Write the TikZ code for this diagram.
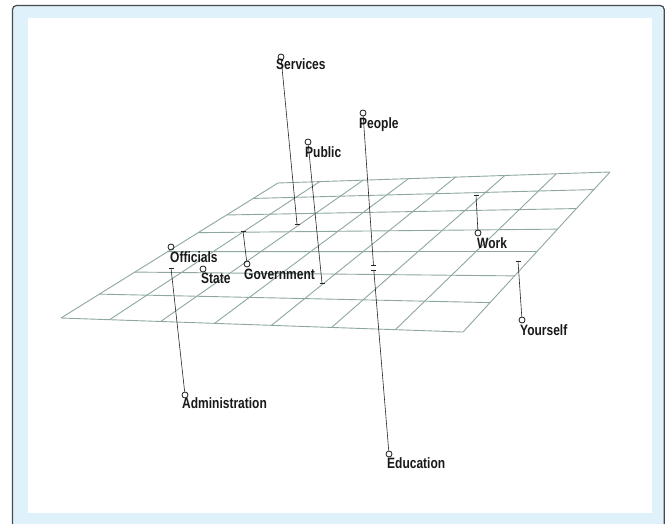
\documentclass[tikz,border=0pt]{standalone}
\usepackage{fontspec}
\setmainfont{Liberation Sans}
\usepackage{graphicx}
\definecolor{frameblue}{HTML}{DFF1FB}
\definecolor{framedark}{HTML}{4A4A4A}
\definecolor{gridc}{HTML}{8EA99B}
\newcommand\talltext[1]{\scalebox{1}[1.25]{#1}}
\begin{document}
\begin{tikzpicture}[x=1pt,y=-1pt,
  gridline/.style={draw=gridc,line width=0.9pt},
  stem/.style={draw=black!85,line width=0.6pt},
  ptmark/.style={circle,draw=black!90,line width=0.8pt,minimum size=6pt,inner sep=0pt},
  lbl/.style={anchor=base west,inner sep=0pt,font=\fontsize{12}{12}\selectfont\bfseries,text=black!90},
]
\useasboundingbox (0,0) rectangle (665,524);
\fill[white] (0,0) rectangle (665,524);
\draw[draw=framedark,fill=frameblue,line width=1.2pt,rounded corners=4pt] (12.5,5.5) rectangle (664.2,545);
\fill[white] (28,18) rectangle (652,513);

% perspective grid (7 x 7)
\foreach \i in {0,...,7}{
  \pgfmathsetmacro\u{\i/7}
  \pgfmathsetmacro\wa{1-0.13664*\u}
  \pgfmathsetmacro\xa{(248.65*\u+278)/\wa}
  \pgfmathsetmacro\ya{(-34.50*\u+183)/\wa}
  \pgfmathsetmacro\wb{1-0.13664*\u-0.22410}
  \pgfmathsetmacro\xb{(248.65*\u-230.67+278)/\wb}
  \pgfmathsetmacro\yb{(-34.50*\u+63.74+183)/\wb}
  \draw[gridline] (\xa,\ya) -- (\xb,\yb);
  \pgfmathsetmacro\v{\i/7}
  \pgfmathsetmacro\wc{1-0.22410*\v}
  \pgfmathsetmacro\xc{(-230.67*\v+278)/\wc}
  \pgfmathsetmacro\yc{(63.74*\v+183)/\wc}
  \pgfmathsetmacro\wd{1-0.13664-0.22410*\v}
  \pgfmathsetmacro\xd{(248.65-230.67*\v+278)/\wd}
  \pgfmathsetmacro\yd{(-34.50+63.74*\v+183)/\wd}
  \draw[gridline] (\xc,\yc) -- (\xd,\yd);
}

% feet on the plane
\coordinate (fServ) at (297,224);
\coordinate (fPubl) at (322,283);
\coordinate (fPeop) at (373.5,265.5);
\coordinate (fEduc) at (373.8,270);
\coordinate (fAdmi) at (171,268);
\coordinate (fGove) at (243,231);
\coordinate (fWork) at (476,195);
\coordinate (fYour) at (518,261);

% point markers
\node[ptmark] (mServ) at (281,57) {};
\node[ptmark] (mPubl) at (308,142) {};
\node[ptmark] (mPeop) at (363,113) {};
\node[ptmark] (mEduc) at (389,454) {};
\node[ptmark] (mAdmi) at (185,395) {};
\node[ptmark] (mOffi) at (171,247) {};
\node[ptmark] (mStat) at (203,269) {};
\node[ptmark] (mGove) at (247,264) {};
\node[ptmark] (mWork) at (478,233) {};
\node[ptmark] (mYour) at (522,320) {};

% stems
\foreach \a/\b in {mServ/fServ,mPubl/fPubl,mPeop/fPeop,mEduc/fEduc,mAdmi/fAdmi,mGove/fGove,mWork/fWork,mYour/fYour}
  \draw[stem] (\a) -- (\b);
\foreach \f in {fServ,fPubl,fPeop,fEduc,fAdmi,fGove,fWork,fYour}
  \draw[stem] ([xshift=-2.5pt]\f) -- ([xshift=2.5pt]\f);

% labels
\node[lbl] (tServ) at (276,69.4) {\talltext{Services}};
\node[lbl] (tPubl) at (305,157.4) {\talltext{Public}};
\node[lbl] (tPeop) at (359,128.4) {\talltext{People}};
\node[lbl] (tEduc) at (387,468.4) {\talltext{Education}};
\node[lbl] (tAdmi) at (182,408.4) {\talltext{Administration}};
\node[lbl] (tOffi) at (170,262.4) {\talltext{Officials}};
\node[lbl] (tStat) at (201,283.4) {\talltext{State}};
\node[lbl] (tGove) at (244,279.4) {\talltext{Government}};
\node[lbl] (tWork) at (477,248.4) {\talltext{Work}};
\node[lbl] (tYour) at (520,335.4) {\talltext{Yourself}};
\end{tikzpicture}
\end{document}
